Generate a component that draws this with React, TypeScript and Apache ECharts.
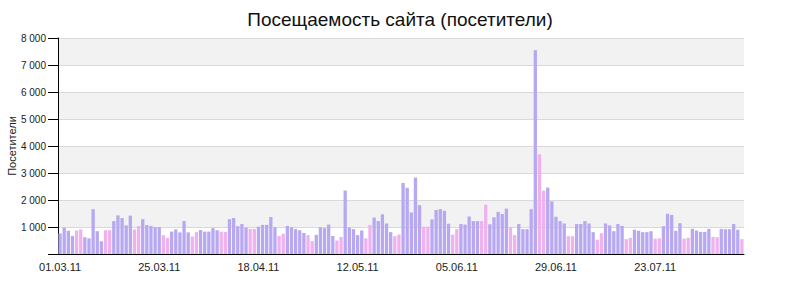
import React, { useEffect, useRef } from "react";
import * as echarts from "echarts";

const TITLE = "Посещаемость сайта (посетители)";
const Y_NAME = "Посетители";
const START_DATE = [2011, 2, 1]; // 01.03.11
const VISITORS: number[] = [
  760, 980, 860, 670, 870, 910, 620, 580, 1660, 845,
  470, 880, 880, 1220, 1430, 1330, 1060, 1420, 910, 1040,
  1290, 1070, 1040, 1000, 1000, 700, 600, 830, 910, 800,
  1220, 800, 650, 810, 890, 830, 830, 960, 880, 830,
  820, 1290, 1330, 1030, 1110, 980, 930, 930, 1010, 1080,
  1080, 1370, 990, 670, 750, 1040, 990, 920, 880, 780,
  700, 480, 710, 990, 960, 1090, 670, 500, 630, 2350,
  980, 920, 700, 870, 580, 1080, 1350, 1220, 1470, 1130,
  810, 660, 720, 2630, 2450, 1540, 2830, 1810, 1010, 1010,
  1280, 1630, 1660, 1600, 1120, 720, 920, 1110, 1090, 1390,
  1220, 1220, 1220, 1830, 1100, 1360, 1560, 1480, 1680, 990,
  700, 1110, 920, 920, 1660, 7550, 3690, 2350, 2460, 1950,
  1380, 1220, 1130, 660, 660, 1110, 1110, 1220, 1130, 810,
  530, 770, 1130, 1060, 845, 1110, 1040, 550, 600, 900,
  860, 810, 810, 845, 570, 580, 1030, 1490, 1450, 860,
  1140, 570, 600, 930, 870, 820, 820, 930, 630, 620,
  930, 920, 920, 1110, 900, 550,
];
const WEEKDAY_COLOR = "#b7a8f1";
const WEEKEND_COLOR = "#efb2ee";

const pad = (n: number) => (n < 10 ? "0" + n : "" + n);

const DATES: Date[] = VISITORS.map(
  (_, i) => new Date(START_DATE[0], START_DATE[1], START_DATE[2] + i)
);
const CATEGORIES: string[] = DATES.map(
  (d) => `${pad(d.getDate())}.${pad(d.getMonth() + 1)}.${String(d.getFullYear()).slice(2)}`
);

const fmt = (v: number) =>
  v === 0 ? "" : String(v).replace(/\B(?=(\d{3})+(?!\d))/g, " ");

export default function App() {
  const ref = useRef<HTMLDivElement>(null);
  useEffect(() => {
    if (!ref.current) return;
    const chart = echarts.init(ref.current, undefined, { renderer: "svg" });
    const font = "Liberation Sans, Arial, sans-serif";
    chart.setOption({
      animation: false,
      backgroundColor: "#ffffff",
      textStyle: { fontFamily: font },
      title: {
        text: TITLE,
        left: "center",
        top: 5,
        textStyle: { fontSize: 19, fontWeight: "normal", color: "#111", fontFamily: font },
      },
      grid: { left: 58, right: 56, top: 38, bottom: 28, containLabel: false, outerBoundsMode: "none" },
      xAxis: {
        type: "category",
        data: CATEGORIES,
        boundaryGap: true,
        axisLine: { lineStyle: { color: "#000", width: 1 } },
        axisTick: { interval: 23, alignWithLabel: true, length: 6, lineStyle: { color: "#000" } },
        axisLabel: { interval: 23, color: "#222", fontSize: 11, margin: 7, fontFamily: font },
        splitLine: { show: false },
      },
      yAxis: {
        type: "value",
        min: 0,
        max: 8000,
        interval: 1000,
        name: Y_NAME,
        nameLocation: "middle",
        nameGap: 41,
        nameMoveOverlap: false,
        nameTextStyle: { fontSize: 11, color: "#222", fontFamily: font },
        axisLine: { show: true, lineStyle: { color: "#000", width: 1 } },
        axisTick: { show: true, length: 10, lineStyle: { color: "#000" } },
        axisLabel: { formatter: fmt, color: "#222", fontSize: 10, margin: 12, fontFamily: font },
        splitLine: { show: true, lineStyle: { color: "#d9d9d9", width: 1 } },
        splitArea: { show: true, areaStyle: { color: ["#ffffff", "#f2f2f2"] } },
      },
      series: [
        {
          type: "bar",
          barCategoryGap: "20%",
          data: VISITORS.map((v, i) => {
            const day = DATES[i].getDay();
            const weekend = day === 0 || day === 6;
            return { value: v, itemStyle: { color: weekend ? WEEKEND_COLOR : WEEKDAY_COLOR } };
          }),
        },
      ],
    });
    return () => chart.dispose();
  }, []);
  return (
    <div
      ref={ref}
      style={{ position: "fixed", left: 0, top: 0, width: 800, height: 282 }}
    />
  );
}
